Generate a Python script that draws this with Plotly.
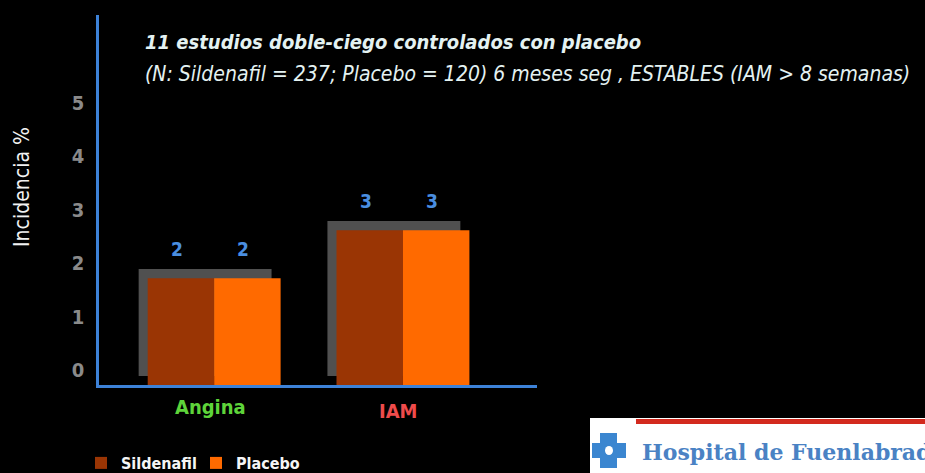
import plotly.graph_objects as go

# ---- data ----
categories = ["Angina", "IAM"]
sildenafil = [2.0, 2.9]
placebo = [2.0, 2.9]
value_labels_sil = ["2", "3"]
value_labels_pla = ["2", "3"]
ytick_vals = [0, 1, 2, 3, 4, 5]
category_colors = ["#5ed43a", "#ee4b4b"]

W, H = 925, 473
L, R, T, B = 99, 537, 15, 385
NARROW = "DejaVu Sans Condensed, Liberation Sans Narrow, Liberation Sans, sans-serif"

def px(x):
    return (x - L) / (R - L)

def py(y):
    return (B - y) / (B - T)

bargap = 0.296
half = (1 - bargap) / 2
xidx = list(range(len(categories)))

fig = go.Figure()
fig.add_trace(go.Bar(name="<b>Sildenafil</b>", x=xidx, y=sildenafil,
                     marker=dict(color="#9a3504", line=dict(width=0))))
fig.add_trace(go.Bar(name="<b>Placebo</b>", x=xidx, y=placebo,
                     marker=dict(color="#ff6a00", line=dict(width=0))))

# 3D-like back shadow boxes (derived from data)
dx, dy = 0.048, 0.17
for i in xidx:
    top = max(sildenafil[i], placebo[i])
    fig.add_shape(type="rect", xref="x", yref="y", layer="below",
                  x0=i - half - dx, x1=i + half - dx, y0=dy, y1=top + dy,
                  fillcolor="#505050", line=dict(width=0))

# value labels
for i in xidx:
    for off, v, t in [(-half / 2, sildenafil[i], value_labels_sil[i]),
                      (half / 2, placebo[i], value_labels_pla[i])]:
        fig.add_annotation(x=i + off, y=v, text="<b>%s</b>" % t, showarrow=False,
                           xref="x", yref="y", yshift=29, xshift=-4,
                           yanchor="middle", xanchor="center",
                           font=dict(family=NARROW, size=19, color="#4a8ee0"))

# category labels
for i, c in enumerate(categories):
    fig.add_annotation(x=i, y=py(407 + 4 * i), xref="x", yref="paper",
                       xanchor="center", yanchor="middle",
                       text="<b>%s</b>" % c, showarrow=False, xshift=-4,
                       font=dict(family=NARROW, size=20, color=category_colors[i]))

# titles
fig.add_annotation(x=px(143), y=py(42), xref="paper", yref="paper",
                   xanchor="left", yanchor="middle", showarrow=False,
                   text="<b><i>11 estudios doble-ciego controlados con placebo</i></b>",
                   font=dict(family=NARROW, size=20, color="#e4f2f2"))
fig.add_annotation(x=px(143), y=py(74), xref="paper", yref="paper",
                   xanchor="left", yanchor="middle", showarrow=False,
                   text="<i>(N: Sildenafil = 237; Placebo = 120) 6 meses seg , ESTABLES (IAM > 8 semanas)</i>",
                   font=dict(family=NARROW, size=21, color="#e4f2f2"))

# y axis title
fig.add_annotation(x=px(22), y=py(187), xref="paper", yref="paper",
                   xanchor="center", yanchor="middle",
                   text="Incidencia %", textangle=-90, showarrow=False,
                   font=dict(family=NARROW, size=21, color="#f2f2f2"))

# hospital logo box
fig.add_shape(type="rect", xref="paper", yref="paper", layer="above",
              x0=px(590), x1=px(930), y0=py(478), y1=py(418),
              fillcolor="#ffffff", line=dict(width=0))
fig.add_shape(type="rect", xref="paper", yref="paper", layer="above",
              x0=px(636), x1=px(930), y0=py(424), y1=py(419),
              fillcolor="#d32a1e", line=dict(width=0))
for (a, b, c, d) in [(600, 617, 433, 468), (592, 626, 443, 458)]:
    fig.add_shape(type="rect", xref="paper", yref="paper", layer="above",
                  x0=px(a), x1=px(b), y0=py(d), y1=py(c),
                  fillcolor="#3b86d0", line=dict(width=0))
fig.add_shape(type="circle", xref="paper", yref="paper", layer="above",
              x0=px(605), x1=px(613), y0=py(455), y1=py(446),
              fillcolor="#ffffff", line=dict(width=0))
fig.add_annotation(x=px(640), y=py(452), xref="paper", yref="paper",
                   xanchor="left", yanchor="middle", showarrow=False,
                   text="<b>Hospital de Fuenlabrada</b>",
                   font=dict(family="DejaVu Serif, Liberation Serif, serif", size=22, color="#4a82c4"))

fig.update_layout(
    width=W, height=H,
    margin=dict(l=L, r=W - R, t=T, b=H - B, pad=0, autoexpand=False),
    paper_bgcolor="#000000", plot_bgcolor="#000000",
    barmode="group", bargap=bargap, bargroupgap=0,
    showlegend=True,
    legend=dict(orientation="h", x=px(81), y=py(463), xanchor="left", yanchor="middle",
                font=dict(family=NARROW, size=16, color="#f5f5f5"),
                entrywidth=70, entrywidthmode="pixels",
                itemwidth=30, tracegroupgap=0, bgcolor="rgba(0,0,0,0)"),
    xaxis=dict(range=[-0.61, 1.71], showticklabels=False, ticks="",
               showgrid=False, zeroline=False, showline=True,
               linecolor="#3d82d8", linewidth=2.5, fixedrange=True),
    yaxis=dict(range=[0, (B - T) / 53.4], tickvals=ytick_vals,
               ticktext=["<b>%d</b>" % v for v in ytick_vals],
               tickfont=dict(family=NARROW, size=20, color="#8a8a8a"),
               ticklabelshift=-15, ticklabelstandoff=8, ticks="",
               showgrid=False, zeroline=False, showline=True,
               linecolor="#3d82d8", linewidth=2.5),
)

fig.write_html("out.html", config={"displayModeBar": False},
               post_script="document.body.style.margin='0';document.body.style.overflow='hidden';")
